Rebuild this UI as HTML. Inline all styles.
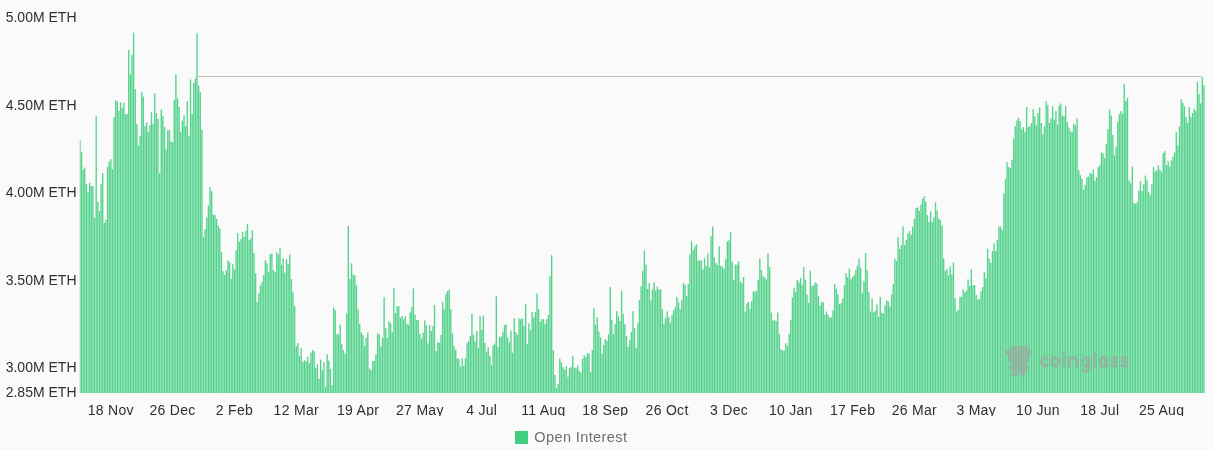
<!DOCTYPE html>
<html><head><meta charset="utf-8"><title>Open Interest</title>
<style>
html,body{margin:0;padding:0;}
body{width:1213px;height:450px;background:#fafafa;overflow:hidden;position:relative;font-family:"Liberation Sans",sans-serif;}
.yl{position:absolute;left:0;width:76.5px;text-align:right;font-size:14px;line-height:16px;height:16px;color:#303030;white-space:nowrap;}
.xl{position:absolute;top:402px;width:80px;margin-left:-40px;text-align:center;font-size:14px;letter-spacing:0.3px;line-height:16px;color:#303030;white-space:nowrap;}
.cv{position:absolute;left:80px;top:415.6px;width:1133px;height:10px;background:#fafafa;}
.lg{position:absolute;left:534.3px;top:428.9px;font-size:14.5px;letter-spacing:0.4px;line-height:16px;color:#6e6e6e;white-space:nowrap;}
.sw{position:absolute;left:515.2px;top:431.2px;width:12.6px;height:12.6px;background:#40ce7f;}
svg{position:absolute;left:0;top:0;}
.txt{position:absolute;left:0;top:0;width:1213px;height:450px;will-change:transform;}
</style></head><body>

<div class="txt">
<div class="yl" style="top:9.0px">5.00M ETH</div>
<div class="yl" style="top:96.5px">4.50M ETH</div>
<div class="yl" style="top:184.0px">4.00M ETH</div>
<div class="yl" style="top:271.5px">3.50M ETH</div>
<div class="yl" style="top:359.0px">3.00M ETH</div>
<div class="yl" style="top:384.0px">2.85M ETH</div>
<div class="xl" style="left:110.8px">18 Nov</div>
<div class="xl" style="left:172.6px">26 Dec</div>
<div class="xl" style="left:234.5px">2 Feb</div>
<div class="xl" style="left:296.3px">12 Mar</div>
<div class="xl" style="left:358.1px">19 Apr</div>
<div class="xl" style="left:419.9px">27 May</div>
<div class="xl" style="left:481.7px">4 Jul</div>
<div class="xl" style="left:543.5px">11 Aug</div>
<div class="xl" style="left:605.3px">18 Sep</div>
<div class="xl" style="left:667.1px">26 Oct</div>
<div class="xl" style="left:729.0px">3 Dec</div>
<div class="xl" style="left:790.8px">10 Jan</div>
<div class="xl" style="left:852.6px">17 Feb</div>
<div class="xl" style="left:914.4px">26 Mar</div>
<div class="xl" style="left:976.2px">3 May</div>
<div class="xl" style="left:1038.0px">10 Jun</div>
<div class="xl" style="left:1099.8px">18 Jul</div>
<div class="xl" style="left:1161.6px">25 Aug</div>
<div class="cv"></div><div class="lg">Open Interest</div></div><div class="sw"></div>
<svg width="1213" height="450" viewBox="0 0 1213 450">
<defs><clipPath id="c"><rect x="79.75" y="0" width="1130" height="393"/></clipPath></defs>
<g clip-path="url(#c)" fill="#40ce7f" fill-opacity="0.89">
<rect x="79.24" y="140.1" width="1.36" height="252.9"/>
<rect x="80.87" y="151.7" width="1.36" height="241.3"/>
<rect x="82.50" y="169.6" width="1.36" height="223.4"/>
<rect x="84.12" y="167.5" width="1.36" height="225.5"/>
<rect x="85.75" y="184.1" width="1.36" height="208.9"/>
<rect x="87.38" y="192.4" width="1.36" height="200.6"/>
<rect x="89.00" y="182.8" width="1.36" height="210.2"/>
<rect x="90.63" y="186.2" width="1.36" height="206.8"/>
<rect x="92.26" y="186.2" width="1.36" height="206.8"/>
<rect x="93.88" y="217.9" width="1.36" height="175.1"/>
<rect x="95.51" y="116.2" width="1.36" height="276.8"/>
<rect x="97.14" y="202.0" width="1.36" height="191.0"/>
<rect x="98.76" y="211.0" width="1.36" height="182.0"/>
<rect x="100.39" y="184.1" width="1.36" height="208.9"/>
<rect x="102.02" y="173.1" width="1.36" height="219.9"/>
<rect x="103.64" y="222.9" width="1.36" height="170.1"/>
<rect x="105.27" y="219.8" width="1.36" height="173.2"/>
<rect x="106.90" y="166.9" width="1.36" height="226.1"/>
<rect x="108.52" y="161.6" width="1.36" height="231.4"/>
<rect x="110.15" y="159.2" width="1.36" height="233.8"/>
<rect x="111.78" y="169.1" width="1.36" height="223.9"/>
<rect x="113.40" y="117.1" width="1.36" height="275.9"/>
<rect x="115.03" y="100.3" width="1.36" height="292.7"/>
<rect x="116.66" y="101.5" width="1.36" height="291.5"/>
<rect x="118.28" y="110.9" width="1.36" height="282.1"/>
<rect x="119.91" y="102.4" width="1.36" height="290.6"/>
<rect x="121.54" y="107.8" width="1.36" height="285.2"/>
<rect x="123.16" y="102.8" width="1.36" height="290.2"/>
<rect x="124.79" y="114.0" width="1.36" height="279.0"/>
<rect x="126.42" y="114.0" width="1.36" height="279.0"/>
<rect x="128.04" y="49.9" width="1.36" height="343.1"/>
<rect x="129.67" y="74.2" width="1.36" height="318.8"/>
<rect x="131.30" y="54.9" width="1.36" height="338.1"/>
<rect x="132.92" y="32.7" width="1.36" height="360.3"/>
<rect x="134.55" y="89.1" width="1.36" height="303.9"/>
<rect x="136.18" y="124.3" width="1.36" height="268.7"/>
<rect x="137.80" y="145.5" width="1.36" height="247.5"/>
<rect x="139.43" y="135.8" width="1.36" height="257.2"/>
<rect x="141.06" y="92.2" width="1.36" height="300.8"/>
<rect x="142.68" y="96.6" width="1.36" height="296.4"/>
<rect x="144.31" y="126.1" width="1.36" height="266.9"/>
<rect x="145.94" y="122.7" width="1.36" height="270.3"/>
<rect x="147.56" y="132.0" width="1.36" height="261.0"/>
<rect x="149.19" y="125.2" width="1.36" height="267.8"/>
<rect x="150.82" y="112.1" width="1.36" height="280.9"/>
<rect x="152.44" y="123.9" width="1.36" height="269.1"/>
<rect x="154.07" y="93.2" width="1.36" height="299.8"/>
<rect x="155.70" y="113.1" width="1.36" height="279.9"/>
<rect x="157.32" y="119.0" width="1.36" height="274.0"/>
<rect x="158.95" y="173.1" width="1.36" height="219.9"/>
<rect x="160.58" y="109.4" width="1.36" height="283.6"/>
<rect x="162.20" y="116.1" width="1.36" height="276.9"/>
<rect x="163.83" y="126.8" width="1.36" height="266.2"/>
<rect x="165.46" y="149.4" width="1.36" height="243.6"/>
<rect x="167.08" y="130.2" width="1.36" height="262.8"/>
<rect x="168.71" y="130.2" width="1.36" height="262.8"/>
<rect x="170.34" y="141.4" width="1.36" height="251.6"/>
<rect x="171.96" y="142.0" width="1.36" height="251.0"/>
<rect x="173.59" y="99.9" width="1.36" height="293.1"/>
<rect x="175.22" y="74.5" width="1.36" height="318.5"/>
<rect x="176.84" y="98.2" width="1.36" height="294.8"/>
<rect x="178.47" y="106.9" width="1.36" height="286.1"/>
<rect x="180.10" y="132.0" width="1.36" height="261.0"/>
<rect x="181.72" y="120.6" width="1.36" height="272.4"/>
<rect x="183.35" y="115.2" width="1.36" height="277.8"/>
<rect x="184.98" y="126.1" width="1.36" height="266.9"/>
<rect x="186.60" y="101.2" width="1.36" height="291.8"/>
<rect x="188.23" y="135.8" width="1.36" height="257.2"/>
<rect x="189.86" y="79.5" width="1.36" height="313.5"/>
<rect x="191.48" y="114.0" width="1.36" height="279.0"/>
<rect x="193.11" y="82.9" width="1.36" height="310.1"/>
<rect x="194.74" y="78.3" width="1.36" height="314.7"/>
<rect x="196.36" y="33.5" width="1.36" height="359.5"/>
<rect x="197.99" y="85.7" width="1.36" height="307.3"/>
<rect x="199.62" y="92.2" width="1.36" height="300.8"/>
<rect x="201.24" y="129.8" width="1.36" height="263.2"/>
<rect x="202.87" y="236.8" width="1.36" height="156.2"/>
<rect x="204.50" y="229.1" width="1.36" height="163.9"/>
<rect x="206.12" y="217.3" width="1.36" height="175.7"/>
<rect x="207.75" y="205.4" width="1.36" height="187.6"/>
<rect x="209.38" y="187.0" width="1.36" height="206.0"/>
<rect x="211.00" y="191.1" width="1.36" height="201.9"/>
<rect x="212.63" y="214.8" width="1.36" height="178.2"/>
<rect x="214.26" y="214.8" width="1.36" height="178.2"/>
<rect x="215.88" y="218.9" width="1.36" height="174.1"/>
<rect x="217.51" y="225.6" width="1.36" height="167.4"/>
<rect x="219.14" y="228.5" width="1.36" height="164.5"/>
<rect x="220.76" y="252.1" width="1.36" height="140.9"/>
<rect x="222.39" y="271.2" width="1.36" height="121.8"/>
<rect x="224.02" y="274.9" width="1.36" height="118.1"/>
<rect x="225.64" y="270.2" width="1.36" height="122.8"/>
<rect x="227.27" y="260.2" width="1.36" height="132.8"/>
<rect x="228.90" y="262.1" width="1.36" height="130.9"/>
<rect x="230.52" y="278.9" width="1.36" height="114.1"/>
<rect x="232.15" y="264.2" width="1.36" height="128.8"/>
<rect x="233.78" y="269.5" width="1.36" height="123.5"/>
<rect x="235.40" y="250.2" width="1.36" height="142.8"/>
<rect x="237.03" y="233.1" width="1.36" height="159.9"/>
<rect x="238.66" y="241.8" width="1.36" height="151.2"/>
<rect x="240.28" y="239.1" width="1.36" height="153.9"/>
<rect x="241.91" y="231.8" width="1.36" height="161.2"/>
<rect x="243.54" y="236.8" width="1.36" height="156.2"/>
<rect x="245.16" y="231.0" width="1.36" height="162.0"/>
<rect x="246.79" y="224.1" width="1.36" height="168.9"/>
<rect x="248.42" y="240.1" width="1.36" height="152.9"/>
<rect x="250.04" y="238.4" width="1.36" height="154.6"/>
<rect x="251.67" y="230.1" width="1.36" height="162.9"/>
<rect x="253.30" y="253.0" width="1.36" height="140.0"/>
<rect x="254.92" y="273.3" width="1.36" height="119.7"/>
<rect x="256.55" y="301.9" width="1.36" height="91.1"/>
<rect x="258.18" y="292.8" width="1.36" height="100.2"/>
<rect x="259.80" y="285.3" width="1.36" height="107.7"/>
<rect x="261.43" y="282.0" width="1.36" height="111.0"/>
<rect x="263.06" y="275.1" width="1.36" height="117.9"/>
<rect x="264.68" y="260.2" width="1.36" height="132.8"/>
<rect x="266.31" y="263.3" width="1.36" height="129.7"/>
<rect x="267.94" y="271.7" width="1.36" height="121.3"/>
<rect x="269.56" y="254.2" width="1.36" height="138.8"/>
<rect x="271.19" y="253.4" width="1.36" height="139.6"/>
<rect x="272.82" y="269.9" width="1.36" height="123.1"/>
<rect x="274.44" y="272.0" width="1.36" height="121.0"/>
<rect x="276.07" y="252.1" width="1.36" height="140.9"/>
<rect x="277.70" y="254.6" width="1.36" height="138.4"/>
<rect x="279.32" y="247.8" width="1.36" height="145.2"/>
<rect x="280.95" y="264.9" width="1.36" height="128.1"/>
<rect x="282.57" y="258.3" width="1.36" height="134.7"/>
<rect x="284.20" y="272.7" width="1.36" height="120.3"/>
<rect x="285.83" y="259.2" width="1.36" height="133.8"/>
<rect x="287.45" y="263.9" width="1.36" height="129.1"/>
<rect x="289.08" y="254.6" width="1.36" height="138.4"/>
<rect x="290.71" y="279.1" width="1.36" height="113.9"/>
<rect x="292.33" y="292.3" width="1.36" height="100.7"/>
<rect x="293.96" y="306.2" width="1.36" height="86.8"/>
<rect x="295.59" y="346.2" width="1.36" height="46.8"/>
<rect x="297.21" y="343.0" width="1.36" height="50.0"/>
<rect x="298.84" y="356.0" width="1.36" height="37.0"/>
<rect x="300.47" y="348.1" width="1.36" height="44.9"/>
<rect x="302.09" y="362.2" width="1.36" height="30.8"/>
<rect x="303.72" y="360.2" width="1.36" height="32.8"/>
<rect x="305.35" y="361.2" width="1.36" height="31.8"/>
<rect x="306.97" y="356.5" width="1.36" height="36.5"/>
<rect x="308.60" y="363.0" width="1.36" height="30.0"/>
<rect x="310.23" y="352.5" width="1.36" height="40.5"/>
<rect x="311.85" y="350.2" width="1.36" height="42.8"/>
<rect x="313.48" y="351.2" width="1.36" height="41.8"/>
<rect x="315.11" y="368.0" width="1.36" height="25.0"/>
<rect x="316.73" y="364.3" width="1.36" height="28.7"/>
<rect x="318.36" y="378.9" width="1.36" height="14.1"/>
<rect x="319.99" y="359.7" width="1.36" height="33.3"/>
<rect x="321.61" y="370.1" width="1.36" height="22.9"/>
<rect x="323.24" y="362.2" width="1.36" height="30.8"/>
<rect x="324.87" y="387.1" width="1.36" height="5.9"/>
<rect x="326.49" y="354.3" width="1.36" height="38.7"/>
<rect x="328.12" y="360.6" width="1.36" height="32.4"/>
<rect x="329.75" y="368.9" width="1.36" height="24.1"/>
<rect x="331.37" y="385.1" width="1.36" height="7.9"/>
<rect x="333.00" y="307.5" width="1.36" height="85.5"/>
<rect x="334.63" y="310.2" width="1.36" height="82.8"/>
<rect x="336.25" y="334.3" width="1.36" height="58.7"/>
<rect x="337.88" y="334.3" width="1.36" height="58.7"/>
<rect x="339.51" y="324.7" width="1.36" height="68.3"/>
<rect x="341.13" y="344.2" width="1.36" height="48.8"/>
<rect x="342.76" y="350.0" width="1.36" height="43.0"/>
<rect x="344.39" y="353.7" width="1.36" height="39.3"/>
<rect x="346.01" y="313.5" width="1.36" height="79.5"/>
<rect x="347.64" y="226.0" width="1.36" height="167.0"/>
<rect x="349.27" y="278.9" width="1.36" height="114.1"/>
<rect x="350.89" y="263.3" width="1.36" height="129.7"/>
<rect x="352.52" y="274.5" width="1.36" height="118.5"/>
<rect x="354.15" y="275.4" width="1.36" height="117.6"/>
<rect x="355.77" y="285.3" width="1.36" height="107.7"/>
<rect x="357.40" y="309.4" width="1.36" height="83.6"/>
<rect x="359.03" y="323.9" width="1.36" height="69.1"/>
<rect x="360.65" y="332.4" width="1.36" height="60.6"/>
<rect x="362.28" y="335.1" width="1.36" height="57.9"/>
<rect x="363.91" y="346.1" width="1.36" height="46.9"/>
<rect x="365.53" y="337.9" width="1.36" height="55.1"/>
<rect x="367.16" y="332.3" width="1.36" height="60.7"/>
<rect x="368.79" y="368.6" width="1.36" height="24.4"/>
<rect x="370.41" y="369.9" width="1.36" height="23.1"/>
<rect x="372.04" y="360.9" width="1.36" height="32.1"/>
<rect x="373.67" y="360.9" width="1.36" height="32.1"/>
<rect x="375.29" y="354.4" width="1.36" height="38.6"/>
<rect x="376.92" y="333.5" width="1.36" height="59.5"/>
<rect x="378.55" y="334.5" width="1.36" height="58.5"/>
<rect x="380.17" y="346.6" width="1.36" height="46.4"/>
<rect x="381.80" y="337.9" width="1.36" height="55.1"/>
<rect x="383.43" y="297.2" width="1.36" height="95.8"/>
<rect x="385.05" y="327.9" width="1.36" height="65.1"/>
<rect x="386.68" y="337.9" width="1.36" height="55.1"/>
<rect x="388.31" y="321.1" width="1.36" height="71.9"/>
<rect x="389.93" y="323.3" width="1.36" height="69.7"/>
<rect x="391.56" y="332.3" width="1.36" height="60.7"/>
<rect x="393.19" y="287.7" width="1.36" height="105.3"/>
<rect x="394.81" y="313.0" width="1.36" height="80.0"/>
<rect x="396.44" y="306.4" width="1.36" height="86.6"/>
<rect x="398.07" y="306.1" width="1.36" height="86.9"/>
<rect x="399.69" y="318.0" width="1.36" height="75.0"/>
<rect x="401.32" y="315.9" width="1.36" height="77.1"/>
<rect x="402.95" y="319.2" width="1.36" height="73.8"/>
<rect x="404.57" y="316.3" width="1.36" height="76.7"/>
<rect x="406.20" y="323.8" width="1.36" height="69.2"/>
<rect x="407.83" y="324.8" width="1.36" height="68.2"/>
<rect x="409.45" y="312.4" width="1.36" height="80.6"/>
<rect x="411.08" y="307.1" width="1.36" height="85.9"/>
<rect x="412.71" y="288.5" width="1.36" height="104.5"/>
<rect x="414.33" y="314.6" width="1.36" height="78.4"/>
<rect x="415.96" y="320.1" width="1.36" height="72.9"/>
<rect x="417.59" y="320.1" width="1.36" height="72.9"/>
<rect x="419.21" y="333.8" width="1.36" height="59.2"/>
<rect x="420.84" y="338.7" width="1.36" height="54.3"/>
<rect x="422.47" y="332.9" width="1.36" height="60.1"/>
<rect x="424.09" y="320.5" width="1.36" height="72.5"/>
<rect x="425.72" y="325.1" width="1.36" height="67.9"/>
<rect x="427.35" y="343.5" width="1.36" height="49.5"/>
<rect x="428.97" y="325.1" width="1.36" height="67.9"/>
<rect x="430.60" y="331.0" width="1.36" height="62.0"/>
<rect x="432.23" y="326.1" width="1.36" height="66.9"/>
<rect x="433.85" y="304.9" width="1.36" height="88.1"/>
<rect x="435.48" y="350.9" width="1.36" height="42.1"/>
<rect x="437.11" y="342.2" width="1.36" height="50.8"/>
<rect x="438.73" y="342.8" width="1.36" height="50.2"/>
<rect x="440.36" y="335.0" width="1.36" height="58.0"/>
<rect x="441.99" y="302.2" width="1.36" height="90.8"/>
<rect x="443.61" y="309.3" width="1.36" height="83.7"/>
<rect x="445.24" y="293.9" width="1.36" height="99.1"/>
<rect x="446.87" y="291.0" width="1.36" height="102.0"/>
<rect x="448.49" y="289.7" width="1.36" height="103.3"/>
<rect x="450.12" y="308.9" width="1.36" height="84.1"/>
<rect x="451.75" y="333.3" width="1.36" height="59.7"/>
<rect x="453.37" y="346.0" width="1.36" height="47.0"/>
<rect x="455.00" y="349.7" width="1.36" height="43.3"/>
<rect x="456.63" y="358.4" width="1.36" height="34.6"/>
<rect x="458.25" y="359.0" width="1.36" height="34.0"/>
<rect x="459.88" y="366.9" width="1.36" height="26.1"/>
<rect x="461.51" y="358.2" width="1.36" height="34.8"/>
<rect x="463.13" y="365.9" width="1.36" height="27.1"/>
<rect x="464.76" y="358.2" width="1.36" height="34.8"/>
<rect x="466.39" y="343.2" width="1.36" height="49.8"/>
<rect x="468.01" y="341.0" width="1.36" height="52.0"/>
<rect x="469.64" y="336.2" width="1.36" height="56.8"/>
<rect x="471.27" y="313.6" width="1.36" height="79.4"/>
<rect x="472.89" y="334.8" width="1.36" height="58.2"/>
<rect x="474.52" y="341.6" width="1.36" height="51.4"/>
<rect x="476.15" y="331.0" width="1.36" height="62.0"/>
<rect x="477.77" y="347.8" width="1.36" height="45.2"/>
<rect x="479.40" y="316.1" width="1.36" height="76.9"/>
<rect x="481.03" y="330.0" width="1.36" height="63.0"/>
<rect x="482.65" y="315.5" width="1.36" height="77.5"/>
<rect x="484.28" y="342.8" width="1.36" height="50.2"/>
<rect x="485.91" y="351.9" width="1.36" height="41.1"/>
<rect x="487.53" y="347.2" width="1.36" height="45.8"/>
<rect x="489.16" y="355.7" width="1.36" height="37.3"/>
<rect x="490.78" y="364.9" width="1.36" height="28.1"/>
<rect x="492.41" y="345.0" width="1.36" height="48.0"/>
<rect x="494.04" y="343.5" width="1.36" height="49.5"/>
<rect x="495.66" y="296.2" width="1.36" height="96.8"/>
<rect x="497.29" y="347.0" width="1.36" height="46.0"/>
<rect x="498.92" y="337.1" width="1.36" height="55.9"/>
<rect x="500.54" y="336.5" width="1.36" height="56.5"/>
<rect x="502.17" y="332.1" width="1.36" height="60.9"/>
<rect x="503.80" y="325.3" width="1.36" height="67.7"/>
<rect x="505.42" y="324.4" width="1.36" height="68.6"/>
<rect x="507.05" y="337.7" width="1.36" height="55.3"/>
<rect x="508.68" y="342.1" width="1.36" height="50.9"/>
<rect x="510.30" y="330.6" width="1.36" height="62.4"/>
<rect x="511.93" y="352.7" width="1.36" height="40.3"/>
<rect x="513.56" y="318.2" width="1.36" height="74.8"/>
<rect x="515.18" y="332.1" width="1.36" height="60.9"/>
<rect x="516.81" y="334.9" width="1.36" height="58.1"/>
<rect x="518.44" y="318.4" width="1.36" height="74.6"/>
<rect x="520.06" y="319.1" width="1.36" height="73.9"/>
<rect x="521.69" y="318.4" width="1.36" height="74.6"/>
<rect x="523.32" y="325.9" width="1.36" height="67.1"/>
<rect x="524.94" y="304.1" width="1.36" height="88.9"/>
<rect x="526.57" y="344.0" width="1.36" height="49.0"/>
<rect x="528.20" y="323.4" width="1.36" height="69.6"/>
<rect x="529.82" y="329.9" width="1.36" height="63.1"/>
<rect x="531.45" y="312.0" width="1.36" height="81.0"/>
<rect x="533.08" y="317.5" width="1.36" height="75.5"/>
<rect x="534.70" y="312.2" width="1.36" height="80.8"/>
<rect x="536.33" y="293.6" width="1.36" height="99.4"/>
<rect x="537.96" y="309.1" width="1.36" height="83.9"/>
<rect x="539.58" y="321.9" width="1.36" height="71.1"/>
<rect x="541.21" y="319.1" width="1.36" height="73.9"/>
<rect x="542.84" y="319.1" width="1.36" height="73.9"/>
<rect x="544.46" y="323.7" width="1.36" height="69.3"/>
<rect x="546.09" y="319.1" width="1.36" height="73.9"/>
<rect x="547.72" y="315.0" width="1.36" height="78.0"/>
<rect x="549.34" y="276.1" width="1.36" height="116.9"/>
<rect x="550.97" y="255.2" width="1.36" height="137.8"/>
<rect x="552.60" y="350.2" width="1.36" height="42.8"/>
<rect x="554.22" y="374.9" width="1.36" height="18.1"/>
<rect x="555.85" y="387.9" width="1.36" height="5.1"/>
<rect x="557.48" y="383.8" width="1.36" height="9.2"/>
<rect x="559.10" y="358.7" width="1.36" height="34.3"/>
<rect x="560.73" y="362.2" width="1.36" height="30.8"/>
<rect x="562.36" y="367.4" width="1.36" height="25.6"/>
<rect x="563.98" y="369.9" width="1.36" height="23.1"/>
<rect x="565.61" y="366.1" width="1.36" height="26.9"/>
<rect x="567.24" y="376.7" width="1.36" height="16.3"/>
<rect x="568.86" y="368.0" width="1.36" height="25.0"/>
<rect x="570.49" y="367.1" width="1.36" height="25.9"/>
<rect x="572.12" y="355.9" width="1.36" height="37.1"/>
<rect x="573.74" y="367.6" width="1.36" height="25.4"/>
<rect x="575.37" y="368.4" width="1.36" height="24.6"/>
<rect x="577.00" y="365.5" width="1.36" height="27.5"/>
<rect x="578.62" y="370.9" width="1.36" height="22.1"/>
<rect x="580.25" y="372.6" width="1.36" height="20.4"/>
<rect x="581.88" y="358.9" width="1.36" height="34.1"/>
<rect x="583.50" y="355.2" width="1.36" height="37.8"/>
<rect x="585.13" y="356.8" width="1.36" height="36.2"/>
<rect x="586.76" y="353.1" width="1.36" height="39.9"/>
<rect x="588.38" y="353.7" width="1.36" height="39.3"/>
<rect x="590.01" y="372.1" width="1.36" height="20.9"/>
<rect x="591.64" y="350.0" width="1.36" height="43.0"/>
<rect x="593.26" y="308.2" width="1.36" height="84.8"/>
<rect x="594.89" y="324.7" width="1.36" height="68.3"/>
<rect x="596.52" y="317.2" width="1.36" height="75.8"/>
<rect x="598.14" y="331.5" width="1.36" height="61.5"/>
<rect x="599.77" y="337.1" width="1.36" height="55.9"/>
<rect x="601.40" y="353.7" width="1.36" height="39.3"/>
<rect x="603.02" y="345.0" width="1.36" height="48.0"/>
<rect x="604.65" y="339.0" width="1.36" height="54.0"/>
<rect x="606.28" y="340.9" width="1.36" height="52.1"/>
<rect x="607.90" y="334.4" width="1.36" height="58.6"/>
<rect x="609.53" y="287.1" width="1.36" height="105.9"/>
<rect x="611.16" y="319.7" width="1.36" height="73.3"/>
<rect x="612.78" y="334.0" width="1.36" height="59.0"/>
<rect x="614.41" y="324.0" width="1.36" height="69.0"/>
<rect x="616.04" y="311.2" width="1.36" height="81.8"/>
<rect x="617.66" y="316.2" width="1.36" height="76.8"/>
<rect x="619.29" y="320.9" width="1.36" height="72.1"/>
<rect x="620.92" y="290.8" width="1.36" height="102.2"/>
<rect x="622.54" y="314.1" width="1.36" height="78.9"/>
<rect x="624.17" y="324.0" width="1.36" height="69.0"/>
<rect x="625.80" y="336.1" width="1.36" height="56.9"/>
<rect x="627.42" y="347.1" width="1.36" height="45.9"/>
<rect x="629.05" y="340.2" width="1.36" height="52.8"/>
<rect x="630.68" y="332.1" width="1.36" height="60.9"/>
<rect x="632.30" y="311.2" width="1.36" height="81.8"/>
<rect x="633.93" y="328.2" width="1.36" height="64.8"/>
<rect x="635.56" y="348.1" width="1.36" height="44.9"/>
<rect x="637.18" y="323.2" width="1.36" height="69.8"/>
<rect x="638.81" y="300.0" width="1.36" height="93.0"/>
<rect x="640.44" y="286.3" width="1.36" height="106.7"/>
<rect x="642.06" y="270.9" width="1.36" height="122.1"/>
<rect x="643.69" y="250.4" width="1.36" height="142.6"/>
<rect x="645.32" y="264.6" width="1.36" height="128.4"/>
<rect x="646.94" y="289.0" width="1.36" height="104.0"/>
<rect x="648.57" y="283.2" width="1.36" height="109.8"/>
<rect x="650.20" y="300.2" width="1.36" height="92.8"/>
<rect x="651.82" y="289.2" width="1.36" height="103.8"/>
<rect x="653.45" y="282.4" width="1.36" height="110.6"/>
<rect x="655.08" y="290.4" width="1.36" height="102.6"/>
<rect x="656.70" y="286.5" width="1.36" height="106.5"/>
<rect x="658.33" y="289.8" width="1.36" height="103.2"/>
<rect x="659.96" y="289.2" width="1.36" height="103.8"/>
<rect x="661.58" y="308.9" width="1.36" height="84.1"/>
<rect x="663.21" y="323.8" width="1.36" height="69.2"/>
<rect x="664.84" y="317.8" width="1.36" height="75.2"/>
<rect x="666.46" y="311.4" width="1.36" height="81.6"/>
<rect x="668.09" y="317.2" width="1.36" height="75.8"/>
<rect x="669.72" y="322.8" width="1.36" height="70.2"/>
<rect x="671.34" y="315.1" width="1.36" height="77.9"/>
<rect x="672.97" y="310.1" width="1.36" height="82.9"/>
<rect x="674.60" y="307.3" width="1.36" height="85.7"/>
<rect x="676.22" y="296.9" width="1.36" height="96.1"/>
<rect x="677.85" y="302.3" width="1.36" height="90.7"/>
<rect x="679.48" y="308.9" width="1.36" height="84.1"/>
<rect x="681.10" y="300.2" width="1.36" height="92.8"/>
<rect x="682.73" y="283.2" width="1.36" height="109.8"/>
<rect x="684.36" y="284.8" width="1.36" height="108.2"/>
<rect x="685.98" y="296.0" width="1.36" height="97.0"/>
<rect x="687.61" y="284.2" width="1.36" height="108.8"/>
<rect x="689.24" y="254.4" width="1.36" height="138.6"/>
<rect x="690.86" y="241.3" width="1.36" height="151.7"/>
<rect x="692.49" y="250.0" width="1.36" height="143.0"/>
<rect x="694.11" y="246.3" width="1.36" height="146.7"/>
<rect x="695.74" y="244.4" width="1.36" height="148.6"/>
<rect x="697.37" y="260.8" width="1.36" height="132.2"/>
<rect x="698.99" y="260.3" width="1.36" height="132.7"/>
<rect x="700.62" y="260.3" width="1.36" height="132.7"/>
<rect x="702.25" y="269.3" width="1.36" height="123.7"/>
<rect x="703.87" y="258.3" width="1.36" height="134.7"/>
<rect x="705.50" y="265.8" width="1.36" height="127.2"/>
<rect x="707.13" y="253.4" width="1.36" height="139.6"/>
<rect x="708.75" y="267.1" width="1.36" height="125.9"/>
<rect x="710.38" y="236.3" width="1.36" height="156.7"/>
<rect x="712.01" y="226.4" width="1.36" height="166.6"/>
<rect x="713.63" y="257.5" width="1.36" height="135.5"/>
<rect x="715.26" y="263.1" width="1.36" height="129.9"/>
<rect x="716.89" y="264.9" width="1.36" height="128.1"/>
<rect x="718.51" y="246.3" width="1.36" height="146.7"/>
<rect x="720.14" y="265.8" width="1.36" height="127.2"/>
<rect x="721.77" y="266.8" width="1.36" height="126.2"/>
<rect x="723.39" y="268.7" width="1.36" height="124.3"/>
<rect x="725.02" y="259.3" width="1.36" height="133.7"/>
<rect x="726.65" y="241.3" width="1.36" height="151.7"/>
<rect x="728.27" y="240.4" width="1.36" height="152.6"/>
<rect x="729.90" y="232.2" width="1.36" height="160.8"/>
<rect x="731.53" y="261.8" width="1.36" height="131.2"/>
<rect x="733.15" y="279.9" width="1.36" height="113.1"/>
<rect x="734.78" y="264.6" width="1.36" height="128.4"/>
<rect x="736.41" y="264.6" width="1.36" height="128.4"/>
<rect x="738.03" y="261.2" width="1.36" height="131.8"/>
<rect x="739.66" y="281.7" width="1.36" height="111.3"/>
<rect x="741.29" y="283.2" width="1.36" height="109.8"/>
<rect x="742.91" y="277.0" width="1.36" height="116.0"/>
<rect x="744.54" y="311.6" width="1.36" height="81.4"/>
<rect x="746.17" y="303.5" width="1.36" height="89.5"/>
<rect x="747.79" y="301.9" width="1.36" height="91.1"/>
<rect x="749.42" y="309.1" width="1.36" height="83.9"/>
<rect x="751.05" y="301.0" width="1.36" height="92.0"/>
<rect x="752.67" y="291.4" width="1.36" height="101.6"/>
<rect x="754.30" y="291.7" width="1.36" height="101.3"/>
<rect x="755.93" y="290.7" width="1.36" height="102.3"/>
<rect x="757.55" y="279.9" width="1.36" height="113.1"/>
<rect x="759.18" y="258.7" width="1.36" height="134.3"/>
<rect x="760.81" y="269.9" width="1.36" height="123.1"/>
<rect x="762.43" y="276.5" width="1.36" height="116.5"/>
<rect x="764.06" y="277.4" width="1.36" height="115.6"/>
<rect x="765.69" y="279.5" width="1.36" height="113.5"/>
<rect x="767.31" y="253.4" width="1.36" height="139.6"/>
<rect x="768.94" y="267.1" width="1.36" height="125.9"/>
<rect x="770.57" y="312.6" width="1.36" height="80.4"/>
<rect x="772.19" y="320.3" width="1.36" height="72.7"/>
<rect x="773.82" y="320.3" width="1.36" height="72.7"/>
<rect x="775.45" y="321.3" width="1.36" height="71.7"/>
<rect x="777.07" y="312.6" width="1.36" height="80.4"/>
<rect x="778.70" y="333.9" width="1.36" height="59.1"/>
<rect x="780.33" y="349.3" width="1.36" height="43.7"/>
<rect x="781.95" y="350.5" width="1.36" height="42.5"/>
<rect x="783.58" y="350.5" width="1.36" height="42.5"/>
<rect x="785.21" y="343.2" width="1.36" height="49.8"/>
<rect x="786.83" y="345.9" width="1.36" height="47.1"/>
<rect x="788.46" y="333.9" width="1.36" height="59.1"/>
<rect x="790.09" y="319.9" width="1.36" height="73.1"/>
<rect x="791.71" y="297.5" width="1.36" height="95.5"/>
<rect x="793.34" y="287.9" width="1.36" height="105.1"/>
<rect x="794.97" y="292.0" width="1.36" height="101.0"/>
<rect x="796.59" y="280.0" width="1.36" height="113.0"/>
<rect x="798.22" y="282.3" width="1.36" height="110.7"/>
<rect x="799.85" y="277.9" width="1.36" height="115.1"/>
<rect x="801.47" y="284.8" width="1.36" height="108.2"/>
<rect x="803.10" y="267.1" width="1.36" height="125.9"/>
<rect x="804.73" y="279.8" width="1.36" height="113.2"/>
<rect x="806.35" y="294.7" width="1.36" height="98.3"/>
<rect x="807.98" y="302.8" width="1.36" height="90.2"/>
<rect x="809.61" y="270.8" width="1.36" height="122.2"/>
<rect x="811.23" y="286.0" width="1.36" height="107.0"/>
<rect x="812.86" y="285.4" width="1.36" height="107.6"/>
<rect x="814.49" y="282.3" width="1.36" height="110.7"/>
<rect x="816.11" y="283.5" width="1.36" height="109.5"/>
<rect x="817.74" y="296.2" width="1.36" height="96.8"/>
<rect x="819.37" y="305.9" width="1.36" height="87.1"/>
<rect x="820.99" y="301.9" width="1.36" height="91.1"/>
<rect x="822.62" y="302.4" width="1.36" height="90.6"/>
<rect x="824.25" y="314.4" width="1.36" height="78.6"/>
<rect x="825.87" y="311.5" width="1.36" height="81.5"/>
<rect x="827.50" y="315.3" width="1.36" height="77.7"/>
<rect x="829.13" y="317.7" width="1.36" height="75.3"/>
<rect x="830.75" y="317.1" width="1.36" height="75.9"/>
<rect x="832.38" y="310.3" width="1.36" height="82.7"/>
<rect x="834.01" y="284.1" width="1.36" height="108.9"/>
<rect x="835.63" y="288.7" width="1.36" height="104.3"/>
<rect x="837.26" y="294.1" width="1.36" height="98.9"/>
<rect x="838.89" y="304.0" width="1.36" height="89.0"/>
<rect x="840.51" y="303.2" width="1.36" height="89.8"/>
<rect x="842.14" y="298.2" width="1.36" height="94.8"/>
<rect x="843.77" y="285.0" width="1.36" height="108.0"/>
<rect x="845.39" y="273.3" width="1.36" height="119.7"/>
<rect x="847.02" y="277.1" width="1.36" height="115.9"/>
<rect x="848.65" y="268.6" width="1.36" height="124.4"/>
<rect x="850.27" y="279.2" width="1.36" height="113.8"/>
<rect x="851.90" y="277.1" width="1.36" height="115.9"/>
<rect x="853.53" y="275.4" width="1.36" height="117.6"/>
<rect x="855.15" y="270.1" width="1.36" height="122.9"/>
<rect x="856.78" y="265.5" width="1.36" height="127.5"/>
<rect x="858.41" y="258.4" width="1.36" height="134.6"/>
<rect x="860.03" y="268.0" width="1.36" height="125.0"/>
<rect x="861.66" y="292.8" width="1.36" height="100.2"/>
<rect x="863.29" y="281.3" width="1.36" height="111.7"/>
<rect x="864.91" y="253.0" width="1.36" height="140.0"/>
<rect x="866.54" y="270.1" width="1.36" height="122.9"/>
<rect x="868.17" y="292.2" width="1.36" height="100.8"/>
<rect x="869.79" y="311.5" width="1.36" height="81.5"/>
<rect x="871.42" y="298.4" width="1.36" height="94.6"/>
<rect x="873.05" y="312.1" width="1.36" height="80.9"/>
<rect x="874.67" y="310.9" width="1.36" height="82.1"/>
<rect x="876.30" y="304.4" width="1.36" height="88.6"/>
<rect x="877.93" y="316.9" width="1.36" height="76.1"/>
<rect x="879.55" y="297.0" width="1.36" height="96.0"/>
<rect x="881.18" y="312.8" width="1.36" height="80.2"/>
<rect x="882.81" y="313.4" width="1.36" height="79.6"/>
<rect x="884.43" y="305.3" width="1.36" height="87.7"/>
<rect x="886.06" y="300.3" width="1.36" height="92.7"/>
<rect x="887.69" y="301.6" width="1.36" height="91.4"/>
<rect x="889.31" y="306.5" width="1.36" height="86.5"/>
<rect x="890.94" y="294.5" width="1.36" height="98.5"/>
<rect x="892.57" y="284.1" width="1.36" height="108.9"/>
<rect x="894.19" y="258.6" width="1.36" height="134.4"/>
<rect x="895.82" y="261.1" width="1.36" height="131.9"/>
<rect x="897.44" y="237.2" width="1.36" height="155.8"/>
<rect x="899.07" y="248.9" width="1.36" height="144.1"/>
<rect x="900.70" y="244.9" width="1.36" height="148.1"/>
<rect x="902.32" y="226.3" width="1.36" height="166.7"/>
<rect x="903.95" y="244.9" width="1.36" height="148.1"/>
<rect x="905.58" y="240.0" width="1.36" height="153.0"/>
<rect x="907.20" y="233.5" width="1.36" height="159.5"/>
<rect x="908.83" y="231.2" width="1.36" height="161.8"/>
<rect x="910.46" y="234.7" width="1.36" height="158.3"/>
<rect x="912.08" y="226.7" width="1.36" height="166.3"/>
<rect x="913.71" y="218.9" width="1.36" height="174.1"/>
<rect x="915.34" y="208.0" width="1.36" height="185.0"/>
<rect x="916.96" y="207.4" width="1.36" height="185.6"/>
<rect x="918.59" y="210.9" width="1.36" height="182.1"/>
<rect x="920.22" y="204.7" width="1.36" height="188.3"/>
<rect x="921.84" y="199.0" width="1.36" height="194.0"/>
<rect x="923.47" y="196.2" width="1.36" height="196.8"/>
<rect x="925.10" y="201.5" width="1.36" height="191.5"/>
<rect x="926.72" y="215.1" width="1.36" height="177.9"/>
<rect x="928.35" y="222.1" width="1.36" height="170.9"/>
<rect x="929.98" y="211.4" width="1.36" height="181.6"/>
<rect x="931.60" y="222.1" width="1.36" height="170.9"/>
<rect x="933.23" y="217.1" width="1.36" height="175.9"/>
<rect x="934.86" y="202.4" width="1.36" height="190.6"/>
<rect x="936.48" y="210.5" width="1.36" height="182.5"/>
<rect x="938.11" y="218.4" width="1.36" height="174.6"/>
<rect x="939.74" y="220.1" width="1.36" height="172.9"/>
<rect x="941.36" y="225.5" width="1.36" height="167.5"/>
<rect x="942.99" y="258.2" width="1.36" height="134.8"/>
<rect x="944.62" y="271.1" width="1.36" height="121.9"/>
<rect x="946.24" y="269.0" width="1.36" height="124.0"/>
<rect x="947.87" y="275.3" width="1.36" height="117.7"/>
<rect x="949.50" y="266.2" width="1.36" height="126.8"/>
<rect x="951.12" y="274.4" width="1.36" height="118.6"/>
<rect x="952.75" y="262.4" width="1.36" height="130.6"/>
<rect x="954.38" y="298.3" width="1.36" height="94.7"/>
<rect x="956.00" y="311.4" width="1.36" height="81.6"/>
<rect x="957.63" y="309.7" width="1.36" height="83.3"/>
<rect x="959.26" y="296.8" width="1.36" height="96.2"/>
<rect x="960.88" y="296.8" width="1.36" height="96.2"/>
<rect x="962.51" y="289.3" width="1.36" height="103.7"/>
<rect x="964.14" y="292.3" width="1.36" height="100.7"/>
<rect x="965.76" y="290.6" width="1.36" height="102.4"/>
<rect x="967.39" y="279.4" width="1.36" height="113.6"/>
<rect x="969.02" y="285.8" width="1.36" height="107.2"/>
<rect x="970.64" y="269.7" width="1.36" height="123.3"/>
<rect x="972.27" y="285.2" width="1.36" height="107.8"/>
<rect x="973.90" y="285.2" width="1.36" height="107.8"/>
<rect x="975.52" y="294.8" width="1.36" height="98.2"/>
<rect x="977.15" y="299.3" width="1.36" height="93.7"/>
<rect x="978.78" y="299.3" width="1.36" height="93.7"/>
<rect x="980.40" y="291.4" width="1.36" height="101.6"/>
<rect x="982.03" y="287.1" width="1.36" height="105.9"/>
<rect x="983.66" y="272.1" width="1.36" height="120.9"/>
<rect x="985.28" y="278.1" width="1.36" height="114.9"/>
<rect x="986.91" y="248.7" width="1.36" height="144.3"/>
<rect x="988.54" y="258.4" width="1.36" height="134.6"/>
<rect x="990.16" y="262.8" width="1.36" height="130.2"/>
<rect x="991.79" y="251.0" width="1.36" height="142.0"/>
<rect x="993.42" y="243.3" width="1.36" height="149.7"/>
<rect x="995.04" y="251.0" width="1.36" height="142.0"/>
<rect x="996.67" y="240.0" width="1.36" height="153.0"/>
<rect x="998.30" y="226.3" width="1.36" height="166.7"/>
<rect x="999.92" y="226.7" width="1.36" height="166.3"/>
<rect x="1001.55" y="230.1" width="1.36" height="162.9"/>
<rect x="1003.18" y="193.5" width="1.36" height="199.5"/>
<rect x="1004.80" y="179.2" width="1.36" height="213.8"/>
<rect x="1006.43" y="162.2" width="1.36" height="230.8"/>
<rect x="1008.06" y="167.1" width="1.36" height="225.9"/>
<rect x="1009.68" y="168.4" width="1.36" height="224.6"/>
<rect x="1011.31" y="159.7" width="1.36" height="233.3"/>
<rect x="1012.94" y="138.8" width="1.36" height="254.2"/>
<rect x="1014.56" y="126.1" width="1.36" height="266.9"/>
<rect x="1016.19" y="120.5" width="1.36" height="272.5"/>
<rect x="1017.82" y="118.0" width="1.36" height="275.0"/>
<rect x="1019.44" y="121.1" width="1.36" height="271.9"/>
<rect x="1021.07" y="129.2" width="1.36" height="263.8"/>
<rect x="1022.70" y="127.1" width="1.36" height="265.9"/>
<rect x="1024.32" y="131.7" width="1.36" height="261.3"/>
<rect x="1025.95" y="107.2" width="1.36" height="285.8"/>
<rect x="1027.58" y="127.1" width="1.36" height="265.9"/>
<rect x="1029.20" y="126.1" width="1.36" height="266.9"/>
<rect x="1030.83" y="123.0" width="1.36" height="270.0"/>
<rect x="1032.46" y="109.3" width="1.36" height="283.7"/>
<rect x="1034.08" y="116.2" width="1.36" height="276.8"/>
<rect x="1035.71" y="124.9" width="1.36" height="268.1"/>
<rect x="1037.34" y="113.0" width="1.36" height="280.0"/>
<rect x="1038.96" y="107.4" width="1.36" height="285.6"/>
<rect x="1040.59" y="123.0" width="1.36" height="270.0"/>
<rect x="1042.22" y="134.2" width="1.36" height="258.8"/>
<rect x="1043.84" y="126.4" width="1.36" height="266.6"/>
<rect x="1045.47" y="101.2" width="1.36" height="291.8"/>
<rect x="1047.10" y="105.2" width="1.36" height="287.8"/>
<rect x="1048.72" y="123.0" width="1.36" height="270.0"/>
<rect x="1050.35" y="118.4" width="1.36" height="274.6"/>
<rect x="1051.98" y="106.2" width="1.36" height="286.8"/>
<rect x="1053.60" y="119.6" width="1.36" height="273.4"/>
<rect x="1055.23" y="111.2" width="1.36" height="281.8"/>
<rect x="1056.86" y="124.6" width="1.36" height="268.4"/>
<rect x="1058.48" y="105.6" width="1.36" height="287.4"/>
<rect x="1060.11" y="103.5" width="1.36" height="289.5"/>
<rect x="1061.74" y="115.5" width="1.36" height="277.5"/>
<rect x="1063.36" y="116.2" width="1.36" height="276.8"/>
<rect x="1064.99" y="106.1" width="1.36" height="286.9"/>
<rect x="1066.62" y="122.1" width="1.36" height="270.9"/>
<rect x="1068.24" y="127.5" width="1.36" height="265.5"/>
<rect x="1069.87" y="131.6" width="1.36" height="261.4"/>
<rect x="1071.50" y="131.6" width="1.36" height="261.4"/>
<rect x="1073.12" y="123.5" width="1.36" height="269.5"/>
<rect x="1074.75" y="125.4" width="1.36" height="267.6"/>
<rect x="1076.38" y="118.3" width="1.36" height="274.7"/>
<rect x="1078.00" y="170.2" width="1.36" height="222.8"/>
<rect x="1079.63" y="175.2" width="1.36" height="217.8"/>
<rect x="1081.26" y="178.6" width="1.36" height="214.4"/>
<rect x="1082.88" y="189.9" width="1.36" height="203.1"/>
<rect x="1084.51" y="185.1" width="1.36" height="207.9"/>
<rect x="1086.14" y="177.3" width="1.36" height="215.7"/>
<rect x="1087.76" y="176.8" width="1.36" height="216.2"/>
<rect x="1089.39" y="173.1" width="1.36" height="219.9"/>
<rect x="1091.02" y="173.9" width="1.36" height="219.1"/>
<rect x="1092.64" y="169.6" width="1.36" height="223.4"/>
<rect x="1094.27" y="180.5" width="1.36" height="212.5"/>
<rect x="1095.89" y="177.3" width="1.36" height="215.7"/>
<rect x="1097.52" y="167.3" width="1.36" height="225.7"/>
<rect x="1099.15" y="165.2" width="1.36" height="227.8"/>
<rect x="1100.77" y="152.4" width="1.36" height="240.6"/>
<rect x="1102.40" y="153.4" width="1.36" height="239.6"/>
<rect x="1104.03" y="158.1" width="1.36" height="234.9"/>
<rect x="1105.65" y="144.1" width="1.36" height="248.9"/>
<rect x="1107.28" y="129.1" width="1.36" height="263.9"/>
<rect x="1108.91" y="109.6" width="1.36" height="283.4"/>
<rect x="1110.53" y="115.5" width="1.36" height="277.5"/>
<rect x="1112.16" y="135.0" width="1.36" height="258.0"/>
<rect x="1113.79" y="155.3" width="1.36" height="237.7"/>
<rect x="1115.41" y="146.6" width="1.36" height="246.4"/>
<rect x="1117.04" y="122.1" width="1.36" height="270.9"/>
<rect x="1118.67" y="114.2" width="1.36" height="278.8"/>
<rect x="1120.29" y="111.1" width="1.36" height="281.9"/>
<rect x="1121.92" y="113.6" width="1.36" height="279.4"/>
<rect x="1123.55" y="83.7" width="1.36" height="309.3"/>
<rect x="1125.17" y="101.1" width="1.36" height="291.9"/>
<rect x="1126.80" y="98.0" width="1.36" height="295.0"/>
<rect x="1128.43" y="180.5" width="1.36" height="212.5"/>
<rect x="1130.05" y="183.3" width="1.36" height="209.7"/>
<rect x="1131.68" y="166.5" width="1.36" height="226.5"/>
<rect x="1133.31" y="203.0" width="1.36" height="190.0"/>
<rect x="1134.93" y="203.8" width="1.36" height="189.2"/>
<rect x="1136.56" y="202.1" width="1.36" height="190.9"/>
<rect x="1138.19" y="190.5" width="1.36" height="202.5"/>
<rect x="1139.81" y="181.0" width="1.36" height="212.0"/>
<rect x="1141.44" y="191.1" width="1.36" height="201.9"/>
<rect x="1143.07" y="184.3" width="1.36" height="208.7"/>
<rect x="1144.69" y="175.6" width="1.36" height="217.4"/>
<rect x="1146.32" y="180.5" width="1.36" height="212.5"/>
<rect x="1147.95" y="192.1" width="1.36" height="200.9"/>
<rect x="1149.57" y="194.9" width="1.36" height="198.1"/>
<rect x="1151.20" y="184.3" width="1.36" height="208.7"/>
<rect x="1152.83" y="167.1" width="1.36" height="225.9"/>
<rect x="1154.45" y="171.5" width="1.36" height="221.5"/>
<rect x="1156.08" y="170.2" width="1.36" height="222.8"/>
<rect x="1157.71" y="165.6" width="1.36" height="227.4"/>
<rect x="1159.33" y="169.8" width="1.36" height="223.2"/>
<rect x="1160.96" y="172.1" width="1.36" height="220.9"/>
<rect x="1162.59" y="153.2" width="1.36" height="239.8"/>
<rect x="1164.21" y="151.2" width="1.36" height="241.8"/>
<rect x="1165.84" y="165.2" width="1.36" height="227.8"/>
<rect x="1167.47" y="161.1" width="1.36" height="231.9"/>
<rect x="1169.09" y="166.5" width="1.36" height="226.5"/>
<rect x="1170.72" y="160.3" width="1.36" height="232.7"/>
<rect x="1172.35" y="156.5" width="1.36" height="236.5"/>
<rect x="1173.97" y="152.4" width="1.36" height="240.6"/>
<rect x="1175.60" y="132.2" width="1.36" height="260.8"/>
<rect x="1177.23" y="145.3" width="1.36" height="247.7"/>
<rect x="1178.85" y="126.3" width="1.36" height="266.7"/>
<rect x="1180.48" y="99.3" width="1.36" height="293.7"/>
<rect x="1182.11" y="103.0" width="1.36" height="290.0"/>
<rect x="1183.73" y="106.4" width="1.36" height="286.6"/>
<rect x="1185.36" y="116.7" width="1.36" height="276.3"/>
<rect x="1186.99" y="122.9" width="1.36" height="270.1"/>
<rect x="1188.61" y="107.1" width="1.36" height="285.9"/>
<rect x="1190.24" y="117.1" width="1.36" height="275.9"/>
<rect x="1191.87" y="113.0" width="1.36" height="280.0"/>
<rect x="1193.49" y="108.9" width="1.36" height="284.1"/>
<rect x="1195.12" y="111.1" width="1.36" height="281.9"/>
<rect x="1196.75" y="81.8" width="1.36" height="311.2"/>
<rect x="1198.37" y="93.9" width="1.36" height="299.1"/>
<rect x="1200.00" y="103.4" width="1.36" height="289.6"/>
<rect x="1201.63" y="77.2" width="1.36" height="315.8"/>
<rect x="1203.25" y="85.2" width="1.36" height="307.8"/>
</g>
<line x1="195" y1="76.5" x2="1202" y2="76.5" stroke="#c0c0c0" stroke-width="1"/>
<g opacity="0.6" fill="#a0a0a0" stroke="none">
<path d="M1011,347.2 L1011.4,345 L1013.2,346.6 Q1018.8,345.4 1024.2,346.6 L1026,345 L1026.4,347.2 Q1028.6,348.4 1029,350.4 Q1031.6,349.8 1032.2,352.2 Q1032,355 1029.2,355 L1029.2,358.5 Q1028.8,362 1026,363.6 Q1029,366 1028,369.5 Q1027,371.6 1025,371.4 L1025,374.8 Q1024.8,376.6 1022.6,376.6 Q1020.4,376.6 1020.2,374.8 L1020.2,373.6 L1018,373.6 L1018,374.8 Q1017.8,376.6 1015.4,376.6 Q1013,376.6 1012.8,374.8 L1012.6,375.6 Q1010.4,376.6 1009,375.8 Q1011,375 1012,373.8 L1012.4,371.4 Q1010.2,371.2 1009.6,369 Q1009.2,366 1012,363.6 Q1008.8,362 1008.4,358.5 L1008.4,355 Q1005,355 1004.6,352.2 Q1005.2,349.8 1008.6,350.4 Q1009,348.4 1011,347.2 Z"/>
<g fill="none" stroke="#a0a0a0" stroke-width="3" stroke-linecap="round" stroke-linejoin="round">
<path d="M1047.2,359.3 A3.2,4.3 0 1 0 1047.2,364.5"/>
<ellipse cx="1055" cy="361.9" rx="3.2" ry="4.3"/>
<path d="M1063.95,357.7 V366.2"/>
<path d="M1069.5,357.7 V366.2 M1069.5,361.2 A3.65,3.6 0 0 1 1076.8,361.2 V366.2"/>
<ellipse cx="1085.6" cy="361.9" rx="3.0" ry="4.3"/>
<path d="M1088.7,357.7 V368 Q1088.7,371.2 1085.6,371.2 Q1083.8,371.2 1082.8,370.2"/>
<path d="M1094.35,353.4 V366.2"/>
<ellipse cx="1103.5" cy="361.9" rx="3.1" ry="4.3"/>
<path d="M1106.9,357.7 V366.2"/>
<path d="M1116.6,358.9 Q1115.8,357.6 1114.3,357.6 Q1112,357.6 1112,359.7 Q1112,361.3 1114.3,361.9 Q1116.8,362.5 1116.8,364.2 Q1116.8,366.2 1114.3,366.2 Q1112.6,366.2 1111.9,364.9"/>
<path d="M1126.7,358.9 Q1125.9,357.6 1124.4,357.6 Q1122.1,357.6 1122.1,359.7 Q1122.1,361.3 1124.4,361.9 Q1126.9,362.5 1126.9,364.2 Q1126.9,366.2 1124.4,366.2 Q1122.7,366.2 1122,364.9"/>
</g>
<circle cx="1063.95" cy="353.2" r="1.7"/>
</g>
</svg></body></html>
